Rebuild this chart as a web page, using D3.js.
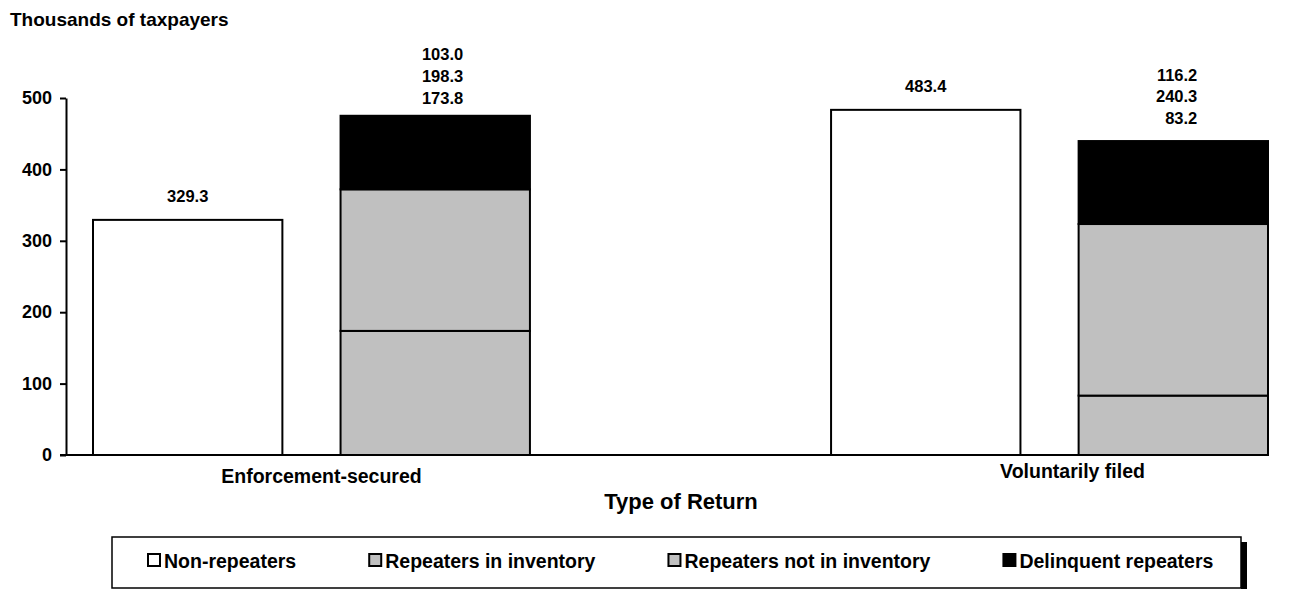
<!DOCTYPE html>
<html><head><meta charset="utf-8">
<script src="https://cdn.jsdelivr.net/npm/d3@7"></script>
<style>
body{margin:0;background:#fff}
text{font-family:"Liberation Sans",Arial,sans-serif;font-weight:bold;fill:#000}
</style>
</head><body><svg id="c" width="1292" height="589"></svg>
<script>
const categories = ["Enforcement-secured", "Voluntarily filed"];
const nonRepeaters = [329.3, 483.4];
const repeatersInInventory = [173.8, 83.2];
const repeatersNotInInventory = [198.3, 240.3];
const delinquentRepeaters = [103.0, 116.2];
const yTicks = [0, 100, 200, 300, 400, 500];
const seriesNames = ["Non-repeaters", "Repeaters in inventory", "Repeaters not in inventory", "Delinquent repeaters"];
const seriesColors = ["#ffffff", "#c0c0c0", "#c0c0c0", "#000000"];

const svg = d3.select("#c");
const y = d3.scaleLinear().domain([0, 500]).range([455, 98]);
const x0 = d3.scaleBand().domain(categories).range([93, 1268]).paddingInner(0.408).paddingOuter(0);
const x1 = d3.scaleBand().domain(["non", "rep"]).range([0, x0.bandwidth()]).paddingInner(0.235);

// title
svg.append("text").attr("x", 10).attr("y", 26).style("font-size", "19px").text("Thousands of taxpayers");

// y axis
const ya = svg.append("g").attr("transform", "translate(66,0)")
  .call(d3.axisLeft(y).tickValues(yTicks).tickSize(6).tickSizeOuter(0).tickPadding(8));
ya.select(".domain").attr("stroke", "#000").attr("stroke-width", 2);
ya.selectAll(".tick line").attr("stroke", "#000").attr("stroke-width", 2);
ya.selectAll(".tick text").style("font-size", "18px").style("font-family", "Liberation Sans, Arial, sans-serif").style("font-weight", "bold").attr("fill", "#000");

// data rows
const rows = categories.map((c, i) => ({
  cat: c,
  nonRepeaters: nonRepeaters[i],
  inInv: repeatersInInventory[i],
  notInInv: repeatersNotInInventory[i],
  delinquent: delinquentRepeaters[i]
}));

// non-repeater bars
svg.append("g").selectAll("rect").data(rows).join("rect")
  .attr("x", d => x0(d.cat) + x1("non"))
  .attr("y", d => y(d.nonRepeaters))
  .attr("width", x1.bandwidth())
  .attr("height", d => y(0) - y(d.nonRepeaters))
  .attr("fill", seriesColors[0]).attr("stroke", "#000").attr("stroke-width", 2);

svg.append("g").selectAll("text").data(rows).join("text")
  .attr("x", d => x0(d.cat) + x1("non") + x1.bandwidth() / 2)
  .attr("y", d => y(d.nonRepeaters) - 18)
  .attr("text-anchor", "middle").style("font-size", "16.5px")
  .text(d => d.nonRepeaters.toFixed(1));

// stacked repeater bars
const keys = ["inInv", "notInInv", "delinquent"];
const stack = d3.stack().keys(keys)(rows);
stack.forEach((layer, k) => {
  svg.append("g").selectAll("rect").data(layer).join("rect")
    .attr("x", d => x0(d.data.cat) + x1("rep"))
    .attr("y", d => y(d[1]))
    .attr("width", x1.bandwidth())
    .attr("height", d => y(d[0]) - y(d[1]))
    .attr("fill", seriesColors[k + 1]).attr("stroke", "#000").attr("stroke-width", 2);
});

// stacked labels above the bar
rows.forEach((r, i) => {
  const top = r.inInv + r.notInInv + r.delinquent;
  const xr = x0(r.cat) + x1("rep") + x1.bandwidth() / 2 + 28 - 4 * i;
  keys.forEach((k, j) => {
    svg.append("text")
      .attr("x", xr)
      .attr("y", y(top) - 12 - 5 * i - j * 21.7)
      .attr("text-anchor", "end").style("font-size", "16.5px")
      .text(r[k].toFixed(1));
  });
});

// x axis line
svg.append("line").attr("x1", 60).attr("x2", x0.range()[1])
  .attr("y1", y(0)).attr("y2", y(0)).attr("stroke", "#000").attr("stroke-width", 2);

// category labels
svg.append("g").selectAll("text").data(categories).join("text")
  .attr("x", (c, i) => x0(c) + x0.bandwidth() / 2 + 10 + 13 * i)
  .attr("y", (c, i) => 483 - 5 * i)
  .attr("text-anchor", "middle").style("font-size", "19.5px")
  .text(c => c);

// axis title
svg.append("text").attr("x", 681).attr("y", 509).attr("text-anchor", "middle")
  .style("font-size", "22px").text("Type of Return");

// legend
svg.append("rect").attr("x", 1241).attr("y", 542).attr("width", 6).attr("height", 50).attr("fill", "#000");
svg.append("rect").attr("x", 112).attr("y", 537).attr("width", 1129).attr("height", 51)
  .attr("fill", "#fff").attr("stroke", "#000").attr("stroke-width", 1.5);
let lx = 148;
seriesNames.forEach((n, i) => {
  svg.append("rect").attr("x", lx).attr("y", 554).attr("width", 12).attr("height", 12)
    .attr("fill", seriesColors[i]).attr("stroke", "#000").attr("stroke-width", 2);
  const t = svg.append("text").attr("x", lx + 16).attr("y", 568).style("font-size", "19.5px").text(n);
  lx = lx + 16 + t.node().getComputedTextLength() + 73;
});
</script>
</body></html>
